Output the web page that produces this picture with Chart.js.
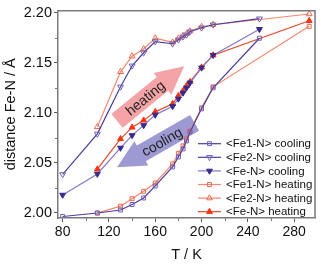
<!DOCTYPE html>
<html>
<head>
<meta charset="utf-8">
<script src="https://cdn.jsdelivr.net/npm/chart.js@4.4.1/dist/chart.umd.min.js"></script>
<style>
  html, body { margin: 0; padding: 0; background: #fff; }
</style>
</head>
<body>
<canvas id="distChart" width="320" height="264"></canvas>
<script>
// temperatures (K)
const coolT = [80, 110, 130, 140, 150, 160, 175, 180, 184, 187, 190, 200, 210, 250];
const heatT = [110, 130, 140, 150, 160, 175, 180, 184, 187, 190, 200, 210, 293];

// distances (Å)
const fe1Cool = [1.9965, 2.000, 2.003, 2.0085, 2.015, 2.027, 2.046, 2.056, 2.064, 2.072, 2.081, 2.104, 2.125, 2.1745];
const fe2Cool = [2.0385, 2.079, 2.126, 2.147, 2.160, 2.1712, 2.169, 2.173, 2.176, 2.178, 2.181, 2.185, 2.188, 2.194];
const feNCool = [2.018, 2.039, 2.065, 2.0775, 2.0875, 2.098, 2.1065, 2.114, 2.120, 2.125, 2.130, 2.145, 2.1576, 2.1835];
const fe1Heat = [2.000, 2.0068, 2.0143, 2.0217, 2.030, 2.049, 2.0595, 2.067, 2.074, 2.082, 2.105, 2.126, 2.1864];
const fe2Heat = [2.086, 2.141, 2.1566, 2.1638, 2.1745, 2.1705, 2.1745, 2.177, 2.179, 2.1816, 2.186, 2.188, 2.1987];
const feNHeat = [2.0437, 2.074, 2.0855, 2.0925, 2.101, 2.109, 2.117, 2.122, 2.127, 2.131, 2.1455, 2.1576, 2.192];

const xMajor = [80, 120, 160, 200, 240, 280];
const xMinor = [100, 140, 180, 220, 260];
const yMajor = [2.00, 2.05, 2.10, 2.15, 2.20];
const yMinor = [2.025, 2.075, 2.125, 2.175];

const FONT = "'Liberation Sans', Arial, sans-serif";
const COOL = '#4b3c9c', COOL_PT = '#6e62b8', COOL_LIGHT = '#8479c6';
const HEAT = '#f4876c', HEAT_PT = '#f06a4c', HEAT_DARK = '#e8472a';

const pts = (xs, ys) => xs.map((x, i) => ({ x, y: ys[i] }));

function series(label, xs, ys, line, pt, style, filled) {
    return {
        label,
        data: pts(xs, ys),
        borderColor: line,
        borderWidth: 1.2,
        pointStyle: style === 'down' ? 'triangle' : style,
        rotation: style === 'down' ? 180 : 0,
        pointRadius: style === 'rect' ? 2.8 : 3.4,
        pointBorderColor: pt,
        pointBackgroundColor: filled ? pt : 'rgba(255,255,255,0)',
        pointBorderWidth: 1,
        tension: 0
    };
}

const datasets = [
    series('<Fe1-N> cooling', coolT, fe1Cool, COOL, COOL_PT, 'rect', false),
    series('<Fe2-N> cooling', coolT, fe2Cool, COOL, COOL_PT, 'down', false),
    series('<Fe-N> cooling', coolT, feNCool, COOL_LIGHT, '#3a2b8a', 'down', true),
    series('<Fe1-N> heating', heatT, fe1Heat, HEAT, HEAT_PT, 'rect', false),
    series('<Fe2-N> heating', heatT, fe2Heat, HEAT, HEAT_PT, 'triangle', false),
    series('<Fe-N> heating', heatT, feNHeat, HEAT_DARK, '#ff3210', 'triangle', true)
];

// big shaded arrows, in data units
const arrows = [
    { text: 'heating', from: [127, 2.092], to: [185, 2.1466], color: '#f4a3a6' },
    { text: 'cooling', from: [194, 2.090], to: [127, 2.0456], color: '#9d9ad3' }
];

const arrowPlugin = {
    id: 'arrows',
    beforeDatasetsDraw(chart) {
        const { ctx, scales: { x, y } } = chart;
        arrows.forEach(a => {
            const x0 = x.getPixelForValue(a.from[0]), y0 = y.getPixelForValue(a.from[1]);
            const x1 = x.getPixelForValue(a.to[0]), y1 = y.getPixelForValue(a.to[1]);
            const ang = Math.atan2(y1 - y0, x1 - x0);
            const len = Math.hypot(x1 - x0, y1 - y0);
            const bh = 9, hh = 14, hl = 28;
            ctx.save();
            ctx.translate(x0, y0);
            ctx.rotate(ang);
            ctx.fillStyle = a.color;
            ctx.beginPath();
            ctx.moveTo(0, -bh);
            ctx.lineTo(len - hl, -bh);
            ctx.lineTo(len - hl, -hh);
            ctx.lineTo(len, 0);
            ctx.lineTo(len - hl, hh);
            ctx.lineTo(len - hl, bh);
            ctx.lineTo(0, bh);
            ctx.closePath();
            ctx.fill();
            // label along the body, kept readable
            const mid = (len - hl / 2) / 2;
            ctx.translate(mid, 0);
            if (Math.cos(ang) < 0) ctx.rotate(Math.PI);
            ctx.fillStyle = '#222';
            ctx.font = '14px ' + FONT;
            ctx.textAlign = 'center';
            ctx.textBaseline = 'middle';
            ctx.fillText(a.text, 0, 1);
            ctx.restore();
        });
    }
};

const framePlugin = {
    id: 'frame',
    afterDraw(chart) {
        const { ctx, chartArea: c } = chart;
        ctx.save();
        ctx.strokeStyle = '#7a7a7a';
        ctx.lineWidth = 1.5;
        ctx.beginPath();
        ctx.moveTo(c.left, c.top);
        ctx.lineTo(c.right, c.top);
        ctx.lineTo(c.right, c.bottom);
        ctx.stroke();
        // minor ticks
        const { x, y } = chart.scales;
        ctx.lineWidth = 1;
        ctx.beginPath();
        xMinor.forEach(v => {
            const px = Math.round(x.getPixelForValue(v)) + 0.5;
            ctx.moveTo(px, c.bottom);
            ctx.lineTo(px, c.bottom + 3);
        });
        yMinor.forEach(v => {
            const py = Math.round(y.getPixelForValue(v)) + 0.5;
            ctx.moveTo(c.left, py);
            ctx.lineTo(c.left - 3, py);
        });
        ctx.stroke();
        ctx.restore();
    }
};

const legendPlugin = {
    id: 'boxLegend',
    afterDatasetsDraw(chart) {
        const { ctx, chartArea: c } = chart;
        const x0 = c.right - 117, row = 13.6, top = 143.7;
        ctx.save();
        ctx.font = '11.5px ' + FONT;
        ctx.textBaseline = 'middle';
        ctx.textAlign = 'left';
        chart.data.datasets.forEach((ds, i) => {
            const yy = top + i * row;
            ctx.strokeStyle = ds.borderColor;
            ctx.lineWidth = ds.borderWidth;
            ctx.beginPath();
            ctx.moveTo(x0, yy);
            ctx.lineTo(x0 + 23, yy);
            ctx.stroke();
            ctx.strokeStyle = ds.pointBorderColor;
            ctx.fillStyle = ds.pointBackgroundColor;
            ctx.lineWidth = 1;
            Chart.helpers.drawPoint(ctx, {
                pointStyle: ds.pointStyle, rotation: ds.rotation,
                radius: ds.pointRadius, borderWidth: 1
            }, x0 + 11.5, yy);
            ctx.fillStyle = '#111';
            ctx.fillText(ds.label, x0 + 28, yy + 0.5);
        });
        ctx.restore();
    }
};

new Chart(document.getElementById('distChart'), {
    type: 'line',
    data: { datasets },
    options: {
        responsive: false,
        animation: false,
        layout: { padding: { top: 5, right: 3, left: 0, bottom: 0 } },
        plugins: { legend: { display: false }, tooltip: { enabled: false } },
        scales: {
            x: {
                type: 'linear',
                min: 76, max: 298,
                afterBuildTicks: s => { s.ticks = xMajor.map(v => ({ value: v })); },
                afterFit: s => { s.height = 46; },
                grid: { drawOnChartArea: false, tickLength: 4, tickColor: '#555' },
                border: { color: '#7a7a7a', width: 1.5 },
                ticks: { color: '#111', font: { family: FONT, size: 14 }, padding: 2, maxRotation: 0 },
                title: { display: true, text: 'T / K', color: '#111', font: { family: FONT, size: 14.5 }, padding: { top: 2, bottom: 0 } }
            },
            y: {
                min: 1.995, max: 2.202,
                afterBuildTicks: s => { s.ticks = yMajor.map(v => ({ value: v })); },
                afterFit: s => { s.width = 58; },
                grid: { drawOnChartArea: false, tickLength: 4, tickColor: '#555' },
                border: { color: '#7a7a7a', width: 1.5 },
                ticks: { color: '#111', font: { family: FONT, size: 14.5 }, padding: 2, callback: v => v.toFixed(2) },
                title: { display: true, text: 'distance Fe-N / Å', color: '#111', font: { family: FONT, size: 14.5 }, padding: { top: 2, bottom: 0 } }
            }
        }
    },
    plugins: [arrowPlugin, framePlugin, legendPlugin]
});
</script>
</body>
</html>
